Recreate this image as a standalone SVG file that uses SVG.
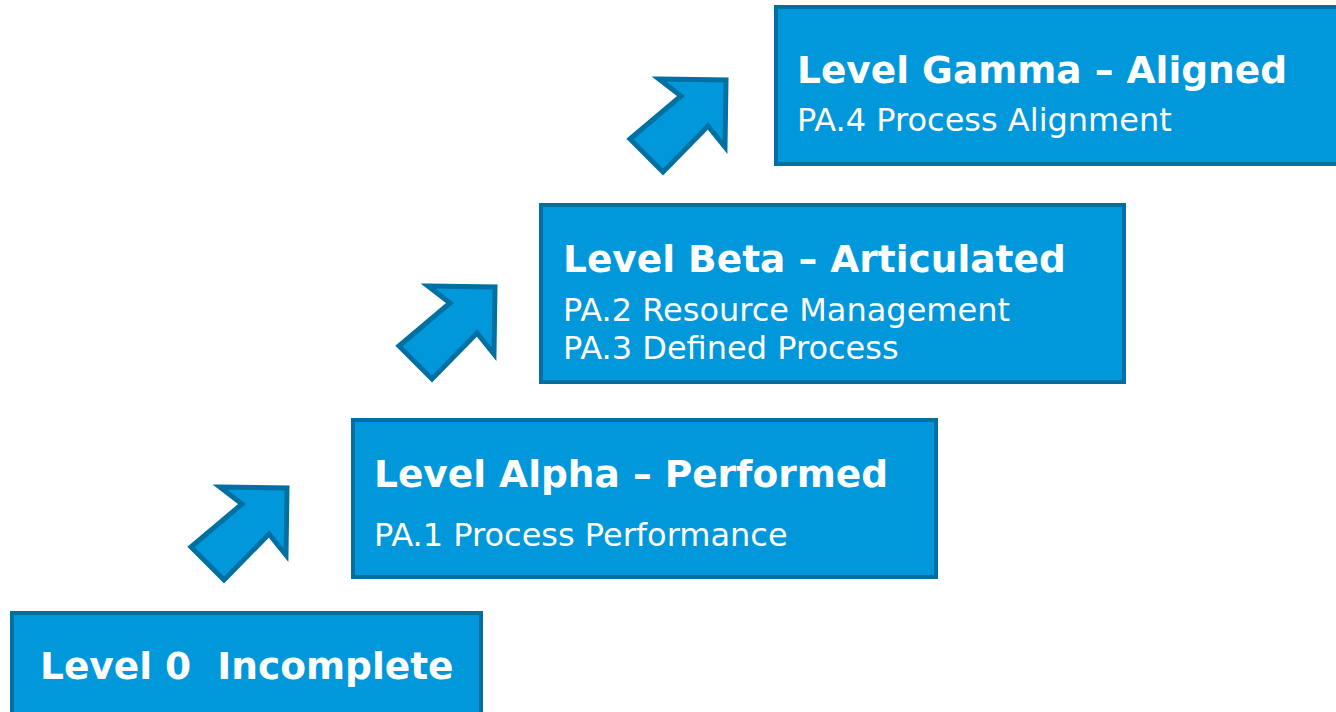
<svg xmlns="http://www.w3.org/2000/svg" width="1336" height="712" viewBox="0 0 1336 712">
  <style>
    .box { fill: #0098da; stroke: #0070a2; stroke-width: 4; }
    .arrow { fill: #0098da; stroke: #0070a2; stroke-width: 5; stroke-linejoin: miter; stroke-miterlimit: 4; }
    .title { font-family: "DejaVu Sans", Verdana, sans-serif; font-weight: bold; font-size: 37.5px; fill: #ffffff; white-space: pre; }
    .sub { font-family: "DejaVu Sans", Verdana, sans-serif; font-size: 32px; fill: #ffffff; }
  </style>
  <defs>
    <!-- block arrow pointing up-right: head triangle plus a diagonal shaft -->
    <polygon id="step-arrow" points="31,2 98,3 97,70 80,49 35,95 2,62 53,19"/>
  </defs>
  <rect width="1336" height="712" fill="#ffffff"/>

  <g id="connectors">
    <use href="#step-arrow" class="arrow" transform="translate(189,485)"/>
    <use href="#step-arrow" class="arrow" transform="translate(397,284)"/>
    <use href="#step-arrow" class="arrow" transform="translate(628,77)"/>
  </g>

  <g id="level-0">
    <rect class="box" x="12" y="613" width="469" height="110"/>
    <text class="title" x="40" y="679" xml:space="preserve">Level 0  Incomplete</text>
  </g>

  <g id="level-alpha">
    <rect class="box" x="353" y="420" width="583" height="157"/>
    <text class="title" x="374" y="487">Level Alpha – Performed</text>
    <text class="sub" x="374" y="546">PA.1 Process Performance</text>
  </g>

  <g id="level-beta">
    <rect class="box" x="541" y="205" width="583" height="177"/>
    <text class="title" x="563" y="272">Level Beta – Articulated</text>
    <text class="sub" x="563" y="321">PA.2 Resource Management</text>
    <text class="sub" x="563" y="359">PA.3 Defined Process</text>
  </g>

  <g id="level-gamma">
    <rect class="box" x="776" y="7" width="580" height="157"/>
    <text class="title" x="797" y="83">Level Gamma – Aligned</text>
    <text class="sub" x="797" y="131">PA.4 Process Alignment</text>
  </g>
</svg>
